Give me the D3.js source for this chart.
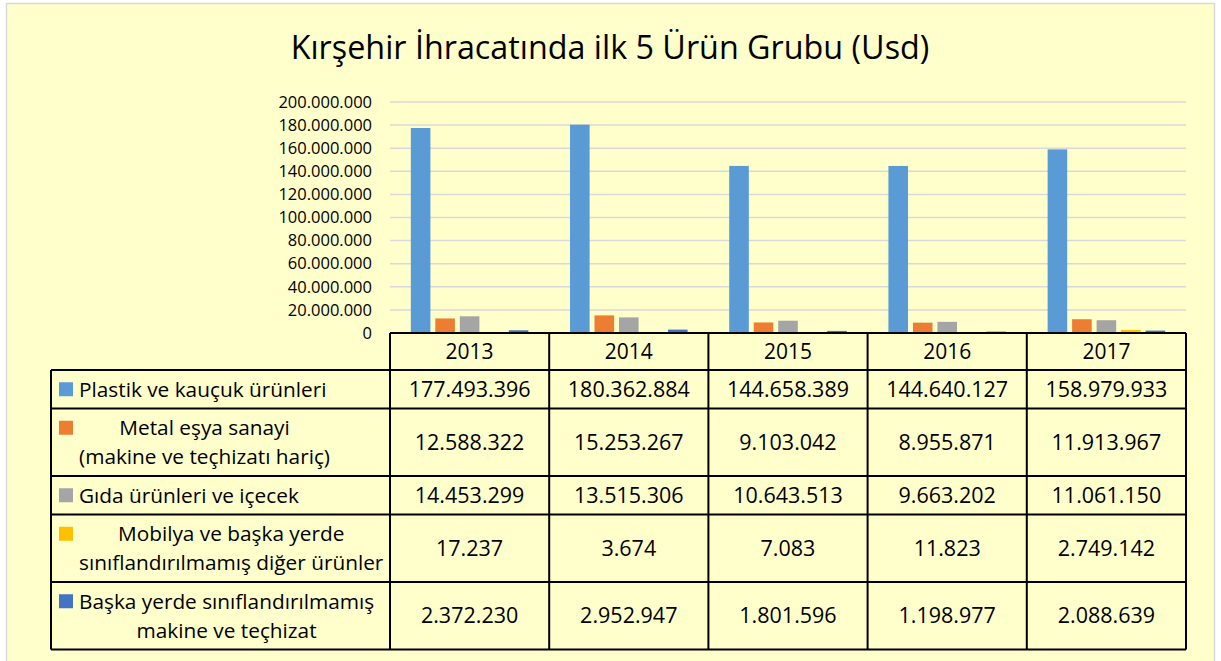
<!DOCTYPE html>
<html>
<head>
<meta charset="utf-8">
<title>Kırşehir İhracatında ilk 5 Ürün Grubu (Usd)</title>
<script src="https://cdn.jsdelivr.net/npm/d3@7"></script>
<style>
body { margin: 0; background: #ffffff; }
text { font-family: "Open Sans", sans-serif; fill: #000; }
</style>
</head>
<body>
<div id="chart"></div>
<script>
var years = ["2013", "2014", "2015", "2016", "2017"];
var seriesNames = [
  "Plastik ve kauçuk ürünleri",
  "Metal eşya sanayi\n(makine ve teçhizatı hariç)",
  "Gıda ürünleri ve içecek",
  "Mobilya ve başka yerde\nsınıflandırılmamış diğer ürünler",
  "Başka yerde sınıflandırılmamış\nmakine ve teçhizat"
];
var plastik = [177493396, 180362884, 144658389, 144640127, 158979933];
var metal   = [12588322, 15253267, 9103042, 8955871, 11913967];
var gida    = [14453299, 13515306, 10643513, 9663202, 11061150];
var mobilya = [17237, 3674, 7083, 11823, 2749142];
var makine  = [2372230, 2952947, 1801596, 1198977, 2088639];
var yTicks  = [0, 20000000, 40000000, 60000000, 80000000, 100000000,
               120000000, 140000000, 160000000, 180000000, 200000000];

var seriesValues = [plastik, metal, gida, mobilya, makine];
var colors = ["#5B9BD5", "#ED7D31", "#A5A5A5", "#FFC000", "#4472C4"];

var width = 1221, height = 661;
var margin = {left: 390, right: 35, top: 102};
var plotBottom = 333;
var tableLeft = 51;

var fmt = d3.formatLocale({decimal: ",", thousands: ".", grouping: [3], currency: ["", ""]}).format(",");

var svg = d3.select("#chart").append("svg")
  .attr("width", width)
  .attr("height", height);

// background panel
svg.append("rect")
  .attr("x", 6.5).attr("y", 3.5)
  .attr("width", 1208).attr("height", 670)
  .attr("fill", "#FFFFCC")
  .attr("stroke", "#D9D9D9")
  .attr("stroke-width", 1.5);

svg.append("text")
  .attr("x", 610).attr("y", 59)
  .attr("text-anchor", "middle")
  .style("font-size", "32.3px")
  .text("Kırşehir İhracatında ilk 5 Ürün Grubu (Usd)");

var x0 = d3.scaleBand()
  .domain(years)
  .range([margin.left, width - margin.right])
  .padding(0);

var x1 = d3.scaleBand()
  .domain(d3.range(seriesNames.length))
  .range([0, x0.bandwidth()])
  .paddingInner(0.2)
  .paddingOuter(0.85);

var y = d3.scaleLinear()
  .domain([0, 200000000])
  .range([plotBottom, margin.top]);

// gridlines
svg.append("g")
  .selectAll("line")
  .data(yTicks.slice(1))
  .join("line")
  .attr("x1", margin.left).attr("x2", width - margin.right)
  .attr("y1", d => y(d)).attr("y2", d => y(d))
  .attr("stroke", "#D9D9D9")
  .attr("stroke-width", 1.5);

// y axis labels
var yAxis = svg.append("g")
  .attr("transform", `translate(${margin.left - 18},0)`)
  .call(d3.axisLeft(y).tickValues(yTicks).tickFormat(fmt).tickSize(0).tickPadding(0));
yAxis.select(".domain").remove();
yAxis.selectAll("text")
  .style("font-family", '"Open Sans", sans-serif')
  .style("font-size", "16.5px")
  .attr("fill", "#000");

// bars
var groups = svg.append("g")
  .selectAll("g")
  .data(years)
  .join("g")
  .attr("transform", d => `translate(${x0(d)},0)`);

groups.selectAll("rect")
  .data((d, i) => seriesValues.map((vals, s) => ({s: s, v: vals[i]})))
  .join("rect")
  .attr("x", d => x1(d.s))
  .attr("width", x1.bandwidth())
  .attr("y", d => y(d.v))
  .attr("height", d => plotBottom - y(d.v))
  .attr("fill", d => colors[d.s]);

// data table
var headerH = 37;
var rowH1 = 38.5, rowH2 = 67.5;
var rows = [];
var yy = plotBottom + headerH;
seriesNames.forEach(function(name, i) {
  var lines = name.split("\n");
  var h = lines.length > 1 ? rowH2 : rowH1;
  rows.push({i: i, lines: lines, y: yy, h: h});
  yy += h;
});
var tableBottom = yy;

var table = svg.append("g");

// header cells
table.selectAll(".hdr")
  .data(years)
  .join("text")
  .attr("class", "hdr")
  .attr("x", d => x0(d) + x0.bandwidth() / 2)
  .attr("y", plotBottom + headerH / 2)
  .attr("dy", "0.35em")
  .attr("text-anchor", "middle")
  .style("font-size", "21px")
  .text(d => d);

// value cells
rows.forEach(function(r) {
  table.selectAll(".v" + r.i)
    .data(seriesValues[r.i])
    .join("text")
    .attr("x", (d, j) => x0(years[j]) + x0.bandwidth() / 2)
    .attr("y", r.y + r.h / 2)
    .attr("dy", "0.35em")
    .attr("text-anchor", "middle")
    .style("font-size", "21.5px")
    .text(d => fmt(d));

  // legend key
  var lineGap = 29;
  var firstY = r.y + r.h / 2 - (r.lines.length - 1) * lineGap / 2;
  table.append("rect")
    .attr("x", 59).attr("y", firstY - 7)
    .attr("width", 14).attr("height", 14)
    .attr("fill", colors[r.i]);

  var lbl = table.append("g");
  var txt = lbl.selectAll("text")
    .data(r.lines)
    .join("text")
    .attr("y", (d, k) => firstY + k * lineGap)
    .attr("dy", "0.35em")
    .style("font-size", "20.8px")
    .text(d => d);
  var maxW = 0;
  txt.each(function() { maxW = Math.max(maxW, this.getComputedTextLength()); });
  if (r.lines.length > 1) {
    txt.attr("x", 79 + maxW / 2).attr("text-anchor", "middle");
  } else {
    txt.attr("x", 79);
  }
});

// table borders
var lineColor = "#000", lw = 2;
table.append("line")
  .attr("x1", margin.left).attr("x2", width - margin.right)
  .attr("y1", plotBottom).attr("y2", plotBottom)
  .attr("stroke", lineColor).attr("stroke-width", lw);
table.selectAll(".hl")
  .data(rows.map(r => r.y).concat([tableBottom]))
  .join("line")
  .attr("x1", tableLeft).attr("x2", width - margin.right)
  .attr("y1", d => d).attr("y2", d => d)
  .attr("stroke", lineColor).attr("stroke-width", lw);
table.selectAll(".vl")
  .data(years.map(d => x0(d)).concat([width - margin.right]))
  .join("line")
  .attr("x1", d => d).attr("x2", d => d)
  .attr("y1", plotBottom).attr("y2", tableBottom)
  .attr("stroke", lineColor).attr("stroke-width", lw);
table.append("line")
  .attr("x1", tableLeft).attr("x2", tableLeft)
  .attr("y1", plotBottom + headerH).attr("y2", tableBottom)
  .attr("stroke", lineColor).attr("stroke-width", lw);
</script>
</body>
</html>
